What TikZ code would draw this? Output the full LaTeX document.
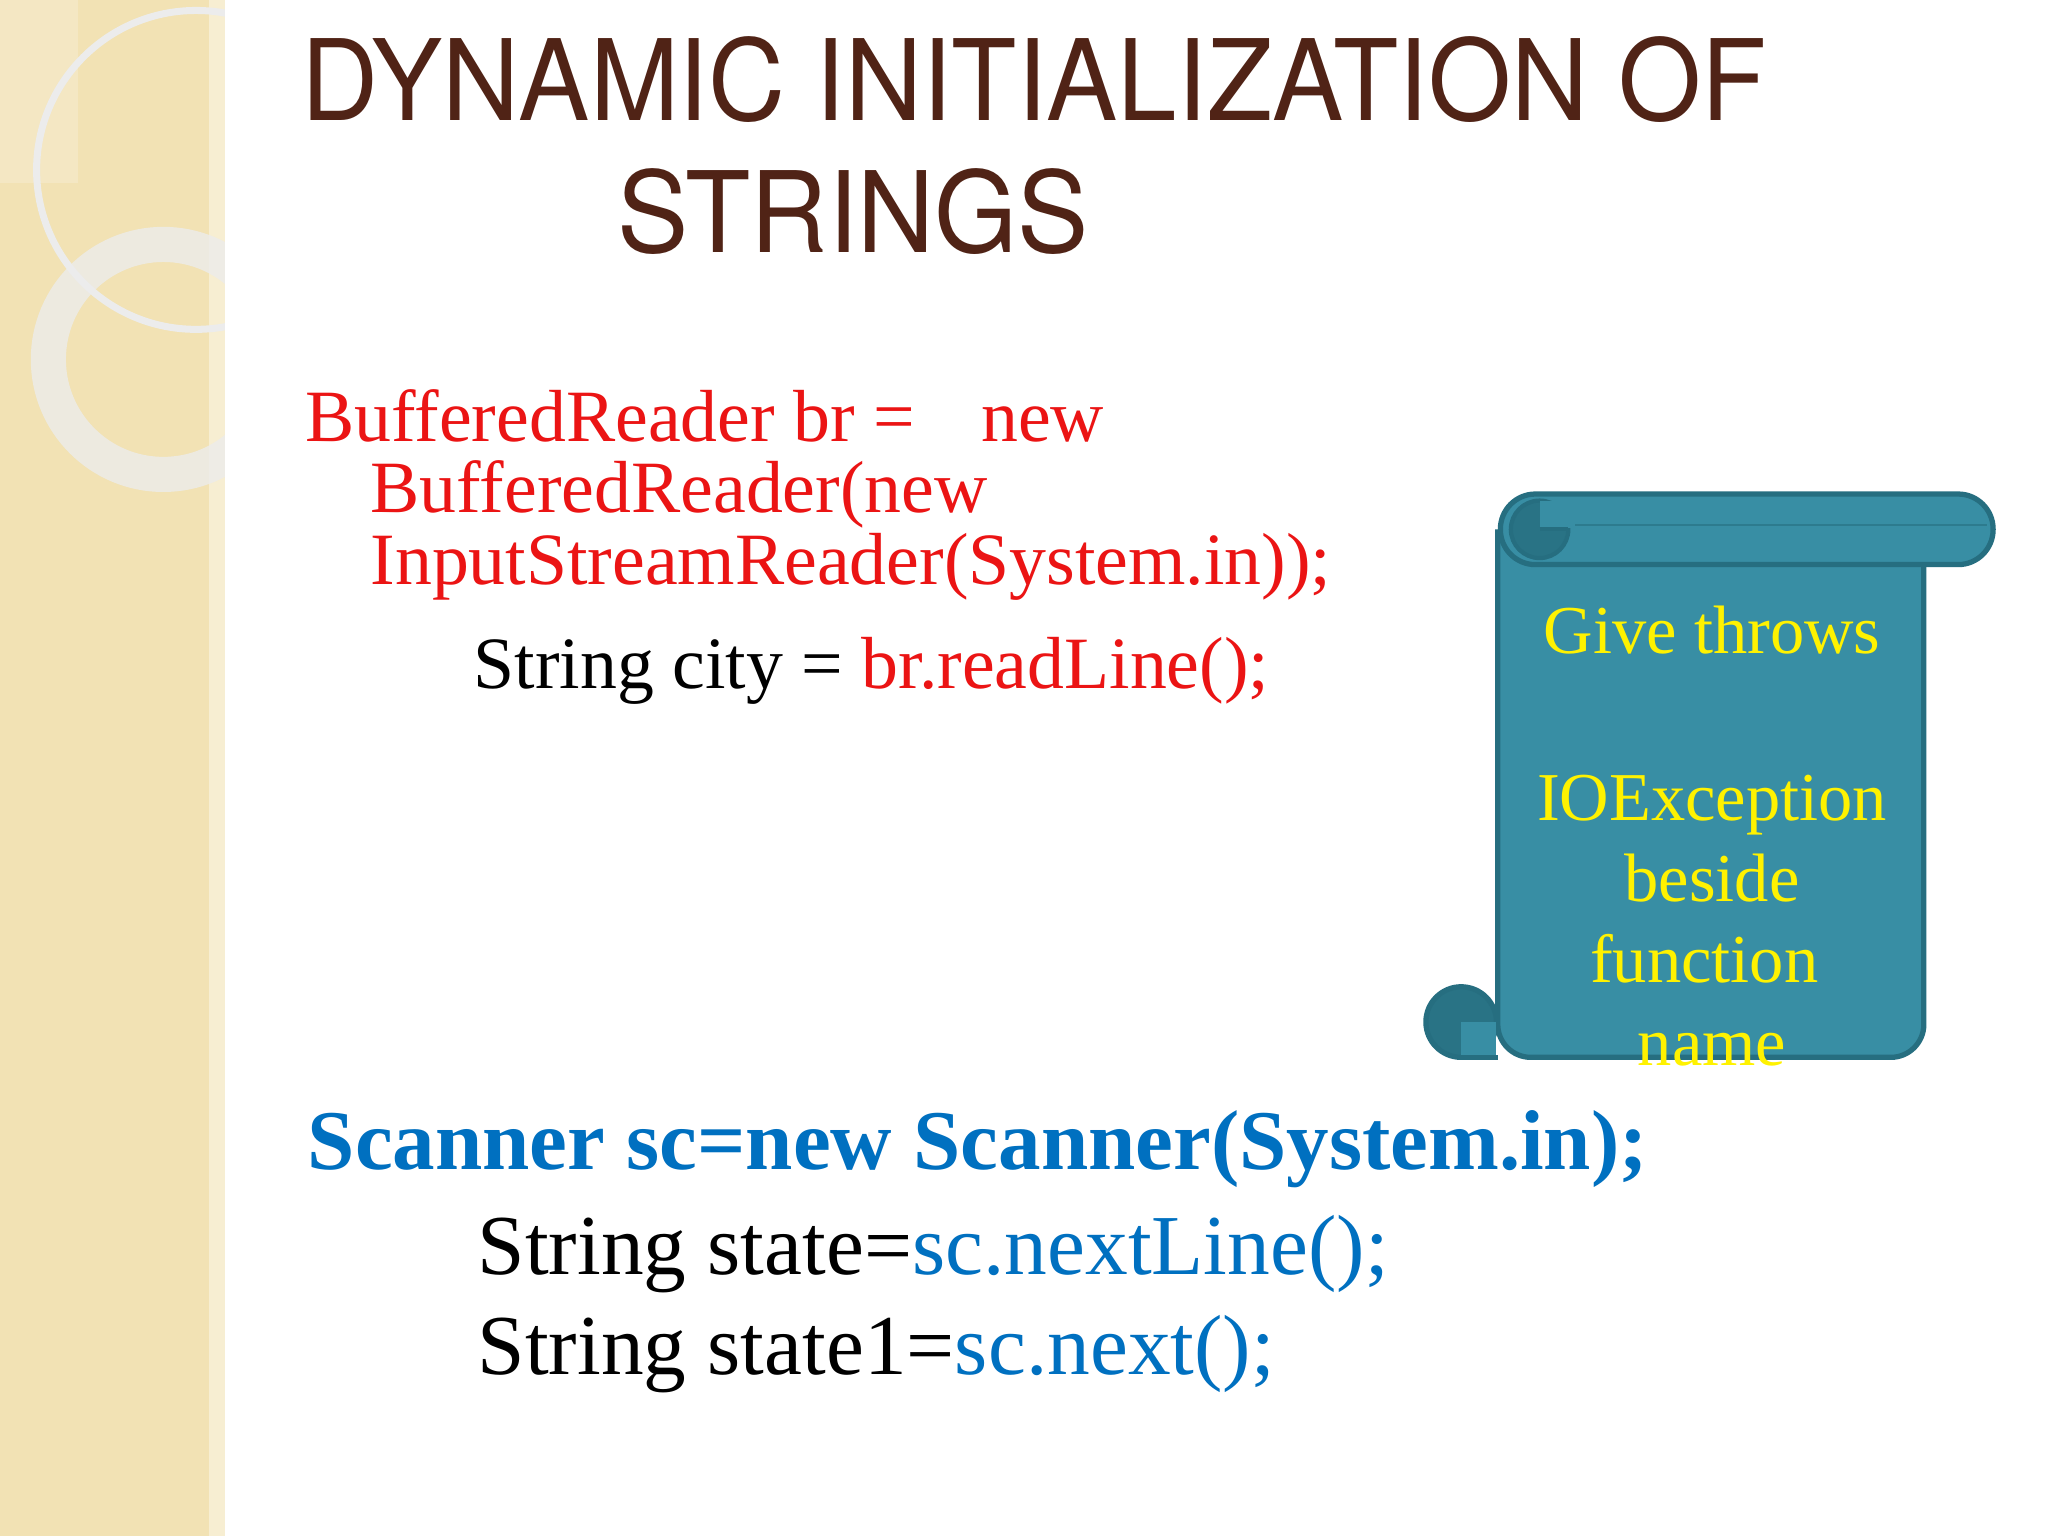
\documentclass[tikz,border=0pt]{standalone}
\usepackage{fontspec}
\setmainfont{Liberation Serif}
\newfontfamily\titlefont{TeX Gyre Heros}
\begin{document}
\begin{tikzpicture}[x=0.01307cm,y=-0.01307cm,
  txt/.style={anchor=base west,inner sep=0pt},
  red/.style={text=codered,font=\fontsize{21}{25}\selectfont},
  ttl/.style={anchor=base west,inner sep=0pt,text=titlebrown,font=\titlefont\fontsize{32}{36}\selectfont,xscale=0.95},
  scr/.style={anchor=base,inner sep=0pt,text=yellow,font=\fontsize{19.5}{23}\selectfont}]
\definecolor{codered}{RGB}{235,20,20}
\definecolor{titlebrown}{RGB}{80,35,22}
\definecolor{codeblue}{RGB}{0,112,192}
\definecolor{beige}{RGB}{242,226,180}
\definecolor{teal1}{RGB}{56,142,164}
\definecolor{teal2}{RGB}{38,110,128}
\useasboundingbox (0,0) rectangle (1567,1175);
\fill[white] (0,0) rectangle (1567,1175);
% left band
\fill[beige] (0,0) rectangle (172,1175);
\fill[beige!60!white] (160,0) rectangle (172,1175);
\begin{scope}
\clip (0,0) rectangle (172,1175);
\fill[white,opacity=0.2] (0,0) rectangle (60,140);
\draw[white!85!gray,line width=2pt] (150,130) circle (122);
\draw[white!85!gray,opacity=0.8,line width=10pt] (125,275) circle (88);
\end{scope}
% title
\node[ttl] (t1) at (230,92) {DYNAMIC INITIALIZATION OF};
\node[ttl] (t2) at (472,193) {STRINGS};
% BufferedReader code
\node[txt,red] (b1) at (233,338) {BufferedReader br =\hspace{0.9em}new};
\node[txt,red] (b2) at (283,392) {BufferedReader(new};
\node[txt,red] (b3) at (283,447) {InputStreamReader(System.in));};
\node[txt,font=\fontsize{21}{25}\selectfont] (c1) at (362,527) {String city = \textcolor{codered}{br.readLine();}};
% scroll
\draw[teal2,line width=1.5pt,fill=teal2!85!teal1] (1118,782) circle (27);
\draw[teal2,line width=1.5pt,fill=teal1,rounded corners=0.33cm] (1146,405) -- (1146,809) -- (1472,809) -- (1472,405);
\fill[teal1] (1118,782) rectangle (1145,808);
\draw[teal2,line width=1.5pt] (1118,809) -- (1146,809);
\draw[teal2,line width=1.5pt,fill=teal1,rounded corners=0.35cm] (1148,378) rectangle (1525,432);
\draw[teal2!60!teal1,line width=0.6pt] (1200,402) -- (1520,402);
\draw[teal2,line width=1.2pt,fill=teal2!85!teal1] (1178,405) circle (22);
\fill[teal1] (1178,383) rectangle (1205,404);
\draw[teal2,line width=1.2pt] (1178,405) -- (1200,405);
% scroll text
\node[scr] (s1) at (1310,500) {Give throws};
\node[scr] (s2) at (1310,628) {IOException};
\node[scr] (s3) at (1310,690) {beside};
\node[scr] (s4) at (1304,752) {function};
\node[scr] (s5) at (1310,815) {name};
% Scanner code
\node[txt,text=codeblue,font=\bfseries\fontsize{24.2}{29}\selectfont] (sc) at (235,895) {Scanner sc=new Scanner(System.in);};
\node[txt,font=\fontsize{24.3}{29}\selectfont] (st1) at (365,975) {String state=\textcolor{codeblue}{sc.nextLine();}};
\node[txt,font=\fontsize{24.3}{29}\selectfont] (st2) at (365,1052) {String state1=\textcolor{codeblue}{sc.next();}};
\end{tikzpicture}
\end{document}
